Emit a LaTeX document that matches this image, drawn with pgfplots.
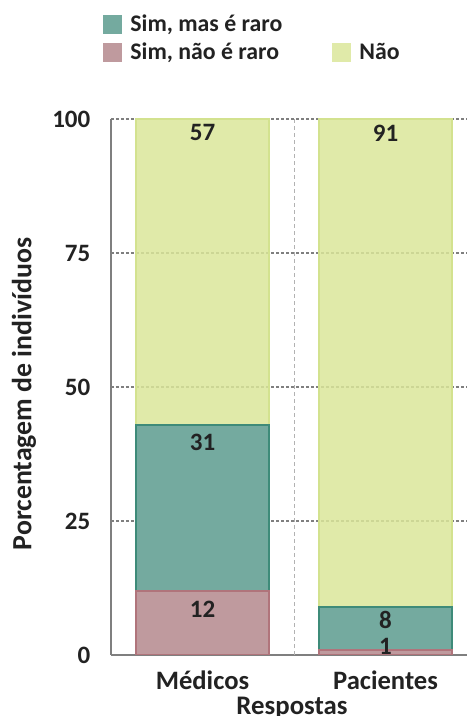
\documentclass[border=0pt]{standalone}
\usepackage{fontspec}
\setmainfont{Carlito}
\usepackage{pgfplots}
\pgfplotsset{compat=1.18}

\definecolor{tealfill}{HTML}{74AA9F}
\definecolor{tealline}{HTML}{3E8B79}
\definecolor{pinkfill}{HTML}{BF9A9E}
\definecolor{pinkline}{HTML}{B0747B}
\definecolor{naofill}{HTML}{DAE69A}
\definecolor{naolegend}{HTML}{E0EAA9}
\definecolor{naoline}{HTML}{D3E28F}
\definecolor{gridgray}{HTML}{7F7F7F}
\definecolor{txt}{HTML}{222222}

% x: 0 = Medicos, 1 = Pacientes; off = shift of the value label from the segment middle (pt)
\pgfplotstableread{
x y off
0 12 7
1 1  3.2
}\pinkdata
\pgfplotstableread{
x y off
0 31 32.4
1 8  4
}\tealdata
\pgfplotstableread{
x y off
0 57 69.4
1 91 115
}\naodata

\begin{document}
\begin{tikzpicture}[font=\fontsize{12.5}{15}\selectfont\bfseries]
\begin{axis}[
  ybar stacked,
  scale only axis,
  width=183pt, height=268pt,
  xmin=-0.5, xmax=1.5,
  ymin=0, ymax=100,
  bar width=66.5pt,
  axis x line=bottom, axis y line=left,
  axis line style={-, draw=gridgray, line width=0.75pt},
  xtick={0,1},
  xticklabels={Médicos,Pacientes},
  major x tick style={draw=none},
  extra x ticks={0.5},
  extra x tick labels={},
  extra x tick style={
    grid=major,
    major grid style={draw=black!30, line width=0.5pt, dash pattern=on 2pt off 1.5pt},
    major tick length=2pt, tick align=outside,
    tick style={draw=gridgray, line width=0.6pt}},
  ytick={0,25,50,75,100},
  major y tick style={draw=none},
  ymajorgrids,
  y grid style={draw=gridgray, line width=0.75pt, dash pattern=on 1.5pt off 1pt},
  /pgf/number format/assume math mode=true,
  yticklabel style={anchor=east, inner sep=0pt, xshift=-8pt, text=txt},
  xticklabel style={anchor=base, yshift=-15pt, text=txt, font=\fontsize{13.3}{16}\selectfont\bfseries},
  xlabel={Respostas},
  ylabel={Porcentagem de indivíduos},
  xlabel style={at={(axis description cs:0.4945,0)}, anchor=base, yshift=-29.5pt, text=txt,
    font=\fontsize{13.4}{16}\selectfont\bfseries},
  ylabel style={at={(axis description cs:-0.2377,0.487)}, anchor=center, text=txt,
    font=\fontsize{13.9}{16}\selectfont\bfseries},
  nodes near coords,
  point meta=explicit,
  visualization depends on={\thisrow{off} \as \off},
  every node near coord/.append style={anchor=center, yshift=\off pt, text=txt, inner sep=0pt},
  legend style={draw=none, fill=none, inner sep=0pt,
    at={(axis description cs:0,1)}, anchor=north west, xshift=-4pt, yshift=53pt,
    nodes={inner sep=0.5pt}, row sep=3.5pt, text=txt,
    font=\fontsize{11.9}{14}\selectfont\bfseries,
    /tikz/every odd column/.append style={column sep=3.5pt},
    /tikz/every even column/.append style={column sep=24.5pt}},
  legend columns=2,
  legend cell align=left,
  legend image code/.code={\fill[#1] (0pt,-4.75pt) rectangle (9.5pt,4.75pt);},
]
\addlegendimage{fill=tealfill, draw=none}
\addlegendentry{Sim, mas é raro}
\addlegendimage{empty legend}
\addlegendentry{}
\addlegendimage{fill=pinkfill, draw=none}
\addlegendentry{Sim, não é raro}
\addlegendimage{fill=naolegend, draw=none}
\addlegendentry{Não}

\addplot[fill=pinkfill, draw=pinkline, line width=1pt, forget plot]
  table[x=x, y=y, meta=y] {\pinkdata};
\addplot[fill=tealfill, draw=tealline, line width=1pt, forget plot]
  table[x=x, y=y, meta=y] {\tealdata};
\addplot[fill=naofill, draw=naoline, line width=0.75pt, fill opacity=0.85, text opacity=1, forget plot]
  table[x=x, y=y, meta=y] {\naodata};
\end{axis}
\pgfresetboundingbox
\path[use as bounding box] (-55.5pt,-30.5pt) rectangle (177.5pt,327.5pt);
\end{tikzpicture}
\end{document}
